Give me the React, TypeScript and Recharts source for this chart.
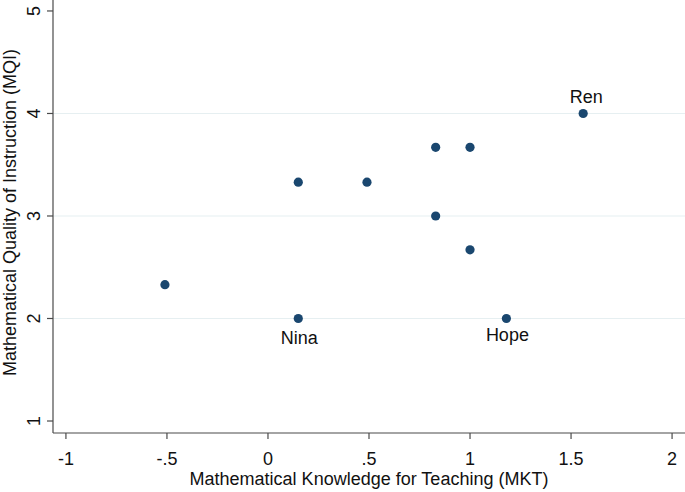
import { ScatterChart, Scatter, XAxis, YAxis, ZAxis, ReferenceLine, Label } from "recharts";

const mktScores = [1.56, 0.83, 1.0, 0.15, 0.49, 0.83, 1.0, -0.51, 0.15, 1.18];
const mqiScores = [4, 3.67, 3.67, 3.33, 3.33, 3, 2.67, 2.33, 2, 2];
const teacherNames = ["Ren", "", "", "", "", "", "", "", "Nina", "Hope"];

const xTicks = [-1, -0.5, 0, 0.5, 1, 1.5, 2];
const yTicks = [1, 2, 3, 4, 5];
const gridLines = [2, 3, 4];

const FONT = "'Liberation Sans', Arial, Helvetica, sans-serif";
const AXIS_COLOR = "#4a4a4a";
const DOT_COLOR = "#1a476f";

const points = mktScores.map((x, i) => ({ x, y: mqiScores[i], name: teacherNames[i] }));

// stata style: drop the leading zero
const fmt = (v: number) => {
  const s = String(v);
  if (s.startsWith("0.")) return s.slice(1);
  if (s.startsWith("-0.")) return "-" + s.slice(2);
  return s;
};

function XTick({ x, y, payload }: any) {
  return (
    <text x={x} y={y + 24} textAnchor="middle" fontSize={18} fill="#111" fontFamily={FONT}>
      {fmt(payload.value)}
    </text>
  );
}

function YTick({ x, y, payload }: any) {
  const bx = x - 5;
  return (
    <text
      x={bx}
      y={y}
      transform={`rotate(-90, ${bx}, ${y})`}
      textAnchor="middle"
      fontSize={18}
      fill="#111"
      fontFamily={FONT}
    >
      {payload.value}
    </text>
  );
}

function Dot({ cx, cy, payload }: any) {
  const name = payload.name;
  let label = null;
  if (name === "Ren") {
    label = (
      <text x={cx + 3} y={cy - 10} textAnchor="middle" fontSize={18} fill="#111" fontFamily={FONT}>
        {name}
      </text>
    );
  } else if (name) {
    label = (
      <text x={cx + 1} y={cy + (name === "Nina" ? 26 : 23)} textAnchor="middle" fontSize={18} fill="#111" fontFamily={FONT}>
        {name}
      </text>
    );
  }
  return (
    <g>
      <circle cx={cx} cy={cy} r={4.6} fill={DOT_COLOR} />
      {label}
    </g>
  );
}

export default function App() {
  return (
    <div style={{ position: "absolute", left: 0, top: 0, width: 685, height: 492, background: "#fff" }}>
      <ScatterChart width={685} height={492} margin={{ top: 0, right: 0, bottom: 0, left: 0 }} style={{ fontFamily: FONT }}>
        {gridLines.map((v) => (
          <ReferenceLine key={v} y={v} stroke="#e6eff1" strokeWidth={1.2} />
        ))}
        <XAxis
          type="number"
          dataKey="x"
          domain={[-1.064, 2.064]}
          ticks={xTicks}
          allowDataOverflow
          height={59}
          tickSize={6}
          axisLine={{ stroke: AXIS_COLOR, strokeWidth: 1.2 }}
          tickLine={{ stroke: AXIS_COLOR, strokeWidth: 1.2 }}
          tick={<XTick />}
          interval={0}
        >
          <Label
            content={({ viewBox }: any) => (
              <text
                x={viewBox.x + viewBox.width / 2}
                y={viewBox.y + 52}
                textAnchor="middle"
                fontSize={18}
                fill="#111"
                fontFamily={FONT}
              >
                Mathematical Knowledge for Teaching (MKT)
              </text>
            )}
          />
        </XAxis>
        <YAxis
          type="number"
          dataKey="y"
          domain={[0.883, 5.107]}
          ticks={yTicks}
          allowDataOverflow
          width={53}
          tickSize={6}
          axisLine={{ stroke: AXIS_COLOR, strokeWidth: 1.2 }}
          tickLine={{ stroke: AXIS_COLOR, strokeWidth: 1.2 }}
          tick={<YTick />}
          interval={0}
        >
          <Label
            content={({ viewBox }: any) => {
              const cy = viewBox.y + viewBox.height / 2 - 4;
              return (
                <text
                  x={15.5}
                  y={cy}
                  transform={`rotate(-90, 15.5, ${cy})`}
                  textAnchor="middle"
                  fontSize={18}
                  fill="#111"
                  fontFamily={FONT}
                >
                  Mathematical Quality of Instruction (MQI)
                </text>
              );
            }}
          />
        </YAxis>
        <ZAxis range={[66, 66]} />
        <Scatter data={points} shape={<Dot />} isAnimationActive={false} />
      </ScatterChart>
    </div>
  );
}
